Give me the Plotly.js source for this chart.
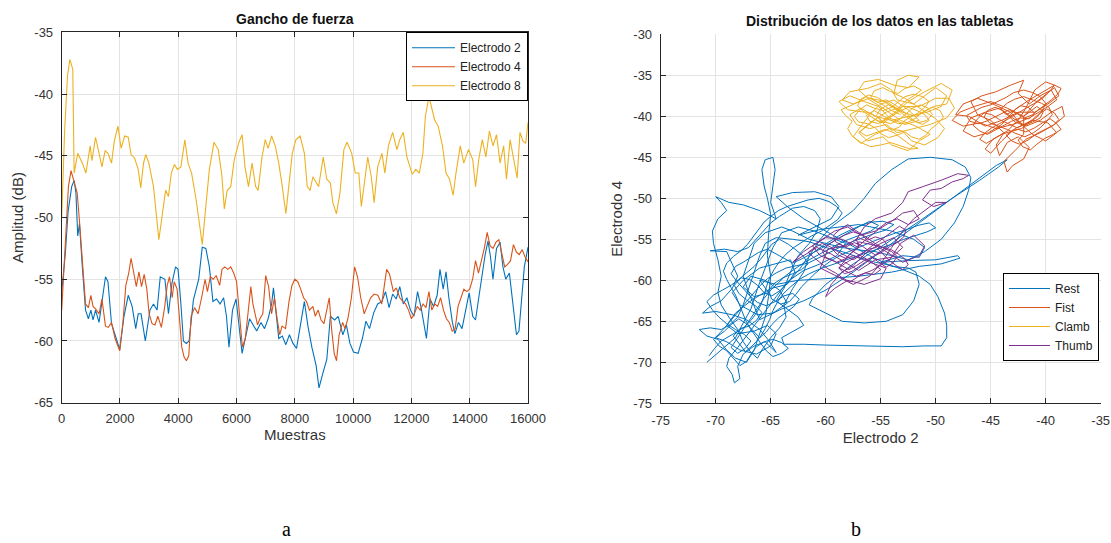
<!DOCTYPE html>
<html>
<head>
<meta charset="utf-8">
<script src="https://cdn.plot.ly/plotly-3.0.1.min.js"></script>
<style>html,body{margin:0;padding:0;background:#fff;}#chart{width:1111px;height:543px;}</style>
</head>
<body>
<div id="chart"></div>
<script>
// ---------- Left chart: Gancho de fuerza ----------
const e8X = [0,100,200,280,380,427,550,708,830,916,977,1038,1160,1282,1380,1490,1587,1709,1807,1929,2040,2161,2283,2381,2503,2625,2711,2808,2882,2991,3150,3333,3443,3565,3663,3761,3870,3968,4090,4225,4335,4457,4615,4823,4945,5067,5226,5372,5495,5580,5678,5800,5922,6081,6190,6288,6410,6532,6654,6740,6874,6984,7082,7204,7326,7448,7570,7692,7790,7912,8034,8180,8327,8425,8523,8620,8718,8816,8974,9096,9219,9304,9426,9548,9682,9792,9951,10073,10195,10281,10403,10500,10623,10720,10842,10989,11087,11209,11355,11502,11600,11722,11844,12027,12149,12271,12393,12479,12601,12699,12796,12918,13065,13187,13309,13431,13529,13676,13797,13956,14103,14200,14310,14432,14554,14676,14798,14920,15042,15164,15262,15384,15506,15628,15725,15823,15921,16000];
const e8Y = [-50,-43,-38.5,-37.2,-38,-46.4,-44.8,-45.6,-46.4,-45.1,-44.2,-45.4,-43.5,-44.8,-45.9,-44.6,-44.8,-45.6,-43.8,-42.6,-44.4,-43.4,-43.5,-44.9,-45.2,-46.1,-47.6,-45.6,-44.9,-45.6,-47.5,-51.8,-49.7,-47.8,-48.3,-46.4,-45.7,-46.1,-45.9,-43.7,-45.6,-46.4,-48.6,-52.2,-49.1,-46.1,-43.9,-44.5,-46.6,-49.3,-47.8,-47.5,-45.3,-43.9,-43.3,-45.9,-47.5,-45.6,-47.5,-47.8,-45.1,-43.7,-44.4,-43.4,-44.2,-45.6,-47.5,-49.7,-47.5,-44.8,-43.7,-43.4,-44.8,-47.5,-47.8,-46.7,-47.1,-47.5,-45.1,-46.9,-47.2,-48.8,-49.7,-48.0,-44.5,-43.9,-44.8,-46.4,-46.4,-49.1,-46.9,-45.1,-46.7,-48.8,-45.9,-44.8,-46.4,-44.2,-43.1,-44.5,-43.7,-43.1,-45.1,-46.5,-46.1,-46.4,-44.8,-41.8,-40.2,-41.3,-42.1,-42.6,-44.2,-46.4,-46.9,-48.2,-46.4,-44.2,-45.6,-44.5,-45.3,-47.5,-45.3,-43.7,-45.1,-43.0,-44.2,-43.3,-45.6,-44.2,-46.9,-43.7,-45.3,-46.8,-43.1,-43.8,-44.0,-42.3];

const e2X = [0,122,220,342,427,488,550,610,708,818,916,1000,1075,1160,1282,1380,1502,1587,1709,1831,1990,2137,2283,2417,2540,2625,2723,2869,3028,3150,3272,3382,3541,3663,3785,3907,3993,4090,4176,4274,4371,4518,4701,4823,4945,5067,5189,5311,5433,5555,5653,5739,5861,5983,6081,6190,6325,6447,6569,6691,6838,6960,7082,7204,7265,7350,7448,7570,7692,7814,7936,8058,8217,8327,8449,8583,8730,8828,8974,9096,9219,9365,9487,9646,9768,9890,10012,10171,10317,10439,10561,10708,10842,10989,11111,11233,11355,11477,11600,11722,11844,11966,12088,12210,12332,12515,12638,12760,12882,12980,13089,13187,13284,13406,13492,13614,13736,13858,13980,14103,14200,14310,14408,14530,14628,14713,14798,14920,15042,15140,15237,15360,15482,15604,15690,15775,15873,16000];
const e2Y = [-56,-53,-49.5,-47.5,-47.0,-48.0,-51.5,-50.5,-54,-57.5,-58.2,-57.5,-58.3,-57.5,-58.5,-57,-54.8,-55.2,-58.6,-59.5,-60.7,-58,-56.3,-57.2,-59.0,-57.8,-57.8,-60.0,-57.5,-57.0,-57.5,-54.8,-55.0,-57.8,-55.3,-54.0,-54.2,-57.0,-60.0,-60.2,-60.0,-56.7,-55,-52.4,-52.5,-54,-56.8,-56.6,-57,-56.5,-58,-60.5,-57.5,-56.6,-58.6,-61.0,-59.5,-58.2,-58.7,-59.2,-58.5,-59.0,-58.2,-57.0,-55.7,-57.5,-59.8,-59.6,-60.3,-59.5,-60.2,-60.6,-58.2,-56.8,-58.8,-60.5,-62.0,-63.8,-62.5,-61.5,-58.0,-58.3,-58.0,-59.5,-58.7,-60.2,-60.9,-61.0,-59.8,-58.4,-59.0,-57.7,-57.0,-56.8,-56.0,-57.3,-56.2,-56.6,-55.6,-57.0,-56.5,-57.5,-58.0,-56.0,-57.3,-59.8,-56.6,-57.2,-56.3,-54.2,-55.8,-54.4,-56.5,-58.5,-59.4,-58.5,-59.0,-57.5,-56.1,-58.0,-58.3,-56.5,-54.8,-53.0,-51.9,-53.2,-55.0,-52.5,-52.0,-54.0,-55.0,-54.5,-57.0,-59.5,-59.2,-56.5,-54.0,-52.4];

const e4X = [0,122,230,320,420,530,610,710,818,916,1000,1075,1160,1282,1380,1502,1600,1709,1831,1990,2100,2200,2300,2380,2480,2560,2650,2740,2830,2920,3000,3100,3200,3300,3420,3530,3620,3700,3790,3860,3960,4040,4120,4200,4280,4360,4440,4560,4680,4800,4920,5000,5100,5200,5300,5420,5500,5600,5700,5800,5900,6000,6080,6200,6300,6400,6490,6560,6640,6720,6800,6900,7000,7100,7200,7300,7380,7480,7560,7680,7800,7900,8000,8100,8200,8300,8400,8500,8620,8700,8800,8900,9000,9100,9180,9260,9350,9430,9520,9640,9720,9820,9940,10050,10150,10260,10380,10480,10600,10720,10850,10980,11080,11150,11250,11380,11480,11600,11700,11800,11900,12000,12100,12200,12300,12400,12500,12600,12700,12800,12900,13000,13100,13200,13300,13400,13500,13600,13700,13800,13900,14000,14100,14200,14300,14400,14500,14600,14700,14800,14900,15000,15100,15200,15300,15400,15500,15600,15700,15800,15900,16000];
const e4Y = [-57.5,-52,-47.5,-46.2,-47.0,-48.0,-50.3,-53.5,-57.0,-57.3,-56.3,-57.2,-57.4,-57.8,-56.6,-58.8,-58.9,-58.5,-59.8,-60.8,-58.5,-55.5,-54.5,-53.3,-54.5,-55.6,-54.4,-55.6,-54.6,-55.8,-57.8,-58.6,-58.7,-58.0,-58.9,-57.3,-55.5,-54.8,-56.5,-55.2,-55.8,-58.5,-60.5,-61.3,-61.6,-61.2,-58.0,-57.3,-57.8,-56.5,-55.0,-56.0,-54.8,-55.0,-54.7,-55.5,-54.2,-54.0,-54.2,-54.0,-54.5,-55.2,-57.5,-60.5,-59.8,-57.5,-55.6,-57.0,-58.0,-58.7,-58.2,-57.8,-54.7,-55.6,-57.8,-56.5,-58.0,-59.5,-58.8,-59.0,-56.8,-55.5,-55.0,-55.2,-55.8,-56.5,-56.8,-57.5,-57.2,-58.0,-57.5,-58.3,-58.6,-57.3,-56.5,-59.0,-61.0,-61.6,-59.5,-58.5,-59.0,-58.2,-56.5,-54.0,-54.8,-56.5,-57.8,-57.2,-56.5,-56.2,-56.3,-57.0,-55.5,-54.2,-54.6,-56.0,-55.7,-56.5,-56.8,-57.0,-57.5,-58.2,-57.8,-57.2,-57.5,-57.0,-57.3,-56.0,-57.5,-57.0,-57.2,-56.5,-57.5,-58.2,-58.5,-59.2,-59.0,-57.2,-56.5,-55.8,-56.0,-55.8,-55.0,-53.5,-54.5,-53.5,-52.5,-51.2,-52.3,-52.5,-52.0,-51.8,-53.0,-54.0,-53.8,-53.5,-52.2,-52.8,-53.0,-52.6,-53.2,-53.6];

// ---------- Right chart: Distribución de los datos ----------
const restX = [-70.8,-69.5,-68.2,-67.5,-66.8,-66.2,-65.5,-64.8,-64.0,-62.5,-61.0,-59.5,-58.2,-59.0,-60.5,-62.0,-63.5,-64.5,-65.5,-66.5,-67.3,-68.0,-68.8,-69.0,-68.5,-68.3,-67.8,-68.0,-67.5,-66.5,-65.5,-64.5,-65.2,-66.0,-67.2,-68.5,-70.0,-71.2,-70.5,-69.5,-68.5,-68.0,-68.5,-69.0,-70.5,-69.2,-68.0,-67.0,-66.0,-65.0,-64.2,-63.0,-62.0,-61.0,-60.5,-60.8,-61.5,-62.5,-63.2,-63.8,-64.5,-63.5,-62.5,-62.0,-63.0,-64.0,-63.8,
-62.0,-60.0,-57.0,-55.0,-53.0,-51.0,-49.5,-49.0,-49.0,-49.2,-49.8,-50.5,-51.5,-52.8,-54.0,-55.5,-57.0,-58.5,-60.0,-61.5,-63.0,-64.5,-65.5,-66.0,-66.5,-67.0,-67.5,-68.0,-68.8,-69.5,-70.5,-71.5,-70.8,-69.8,-69.0,-68.2,-67.2,-66.5,-66.0,-65.5,-65.2,-65.0,-65.3,-65.2,-65.0,-65.3,-65.6,-65.8,-65.5,-64.8,-64.6,-64.8,-65.0,-64.5,
-66.0,-67.5,-68.8,-70.0,-69.5,-69.0,-69.8,-70.3,-70.2,-69.8,-69.5,-69.8,-69.5,-68.8,-68.0,-67.5,-66.8,-66.2,-65.8,-65.0,-64.2,-63.6,-63.8,
-63.0,-62.0,-61.5,-60.5,-59.5,-58.5,-57.5,-56.5,-55.5,-54.0,-52.5,-50.5,-48.5,-47.3,-46.8,-47.0,-47.5,-48.3,-49.5,-51.0,-52.5,-54.0,-55.5,-57.0,-58.5,-60.0,-61.5,-63.0,-64.0,-65.5,-66.5,-67.0,-67.5,-67.0,-66.5,-66.0,
-64.0,-62.0,-60.0,-57.5,-55.0,-52.0,-49.0,-46.5,-44.5,-43.5,-44.3,-46.0,-48.5,-51.5,-54.5,-57.5,-60.0,-61.2,-61.5,
-60.0,-58.5,-56.5,-54.5,-53.0,-52.0,-51.5,-51.8,-52.5,-54.0,-56.0,-58.0,-60.0,-62.0,-63.5,-64.5,-63.0,-61.0,-59.5,-58.8,-59.5,-61.0,-62.5,-60.5,-57.0,-54.0,-52.0,-51.0,-51.5,-53.0,-55.0,-52.5,-50.0,-48.0,-47.8,-49.5,-51.5,
-54.0,-57.0,-60.0,-62.5,-64.5,-66.0,-65.2,-66.5,-67.5,-66.8,-65.5,-64.2,-63.5,-64.8,-66.2,-67.8,-68.5,-67.5,-66.0,-64.5,-63.2,-62.8,-63.5,-65.0,-66.8,-68.2,-69.0,-68.0,-66.5,-65.3,-64.5,-65.0,-66.3,-67.8,-69.0,-70.0,
-69.2,-68.6,-67.9,-67.2,-66.6,-66.0,-65.4,-64.9,-64.3,-63.6,-62.9,-62.4,-63.0,-63.8,-64.6,-65.4,-66.2,-66.9,-67.5,-68.1,-68.6,-68.2,-67.5,-66.8,-66.1,-65.3,-64.5,-63.8,-63.0,-62.2,-61.3,-60.4,-59.5,-58.6,-57.7,-56.9,-56.0,-55.2,-55.9,-56.9,-57.9,-58.9,-59.9,-60.9,-61.9,-62.8,-63.6,-64.3,-65.0,-65.6,-66.1,-66.6,-67.1,-67.6,-68.1,-68.6,-68.0,-67.3,-66.8,-67.4,-68.2,-69.0,-69.7,-70.3,-70.8,-70.2,-69.4,-68.6,-67.9,-67.2,-66.5,-65.9,-65.4,-64.9,-64.2,-63.4,-62.7,-62.0,-61.6,-62.2,-63.0,-63.9,-64.7,-65.2,-64.9,-64.1,-63.3,-62.7,-62.2,-61.6,-61.0,-60.3,-59.5,-58.6,-57.6,-56.6,-55.6,-54.6,-53.6,-52.6,-51.6,-50.6,-50.0,-50.8,-51.8,-52.9,-54.0,-55.1,-56.2,-57.3,-58.4,-59.5,-60.5,-61.5,-62.4,-63.2,-63.9,-64.4,-64.8,-65.1,-65.5,-66.0,-66.6,-67.3];
const restY = [-70.0,-68.5,-67.0,-65.2,-63.5,-61.0,-58.5,-56.0,-54.2,-53.5,-54.0,-54.8,-55.5,-57.0,-58.0,-58.8,-60.2,-62.0,-63.8,-65.5,-67.0,-68.2,-69.5,-70.5,-71.5,-72.5,-72.0,-70.5,-69.0,-68.0,-67.5,-68.8,-67.3,-66.0,-64.8,-64.2,-63.8,-64.0,-63.2,-62.5,-61.0,-59.5,-58.0,-56.5,-56.4,-56.2,-56.5,-56.0,-54.5,-53.0,-52.2,-51.2,-51.0,-51.5,-52.5,-54.0,-55.5,-57.0,-59.0,-61.0,-62.5,-63.5,-64.5,-65.5,-66.2,-67.0,-67.8,
-67.8,-67.9,-68.0,-68.1,-68.1,-68.0,-68.0,-67.0,-65.5,-64.0,-62.0,-60.5,-59.5,-58.8,-58.2,-57.8,-57.2,-56.5,-56.0,-55.3,-55.0,-54.8,-55.5,-57.0,-59.0,-61.0,-63.0,-64.5,-65.5,-66.0,-65.8,-66.0,-66.8,-67.2,-68.5,-69.5,-70.0,-68.5,-66.5,-64.5,-62.0,-59.5,-57.0,-54.5,-52.0,-50.0,-48.5,-46.5,-45.3,-45.0,-46.5,-48.5,-50.5,-52.5,
-51.5,-50.8,-50.5,-49.8,-50.5,-51.5,-52.5,-54.0,-55.5,-57.5,-59.5,-61.5,-63.0,-64.5,-66.0,-67.5,-68.8,-69.5,-68.5,-67.0,-65.8,-64.5,-63.0,
-61.0,-59.0,-57.0,-55.0,-53.5,-52.5,-51.5,-50.0,-48.2,-46.5,-45.2,-45.0,-45.3,-46.2,-47.5,-49.0,-51.0,-53.0,-55.0,-56.5,-57.5,-57.0,-56.5,-56.3,-56.0,-55.5,-55.0,-54.0,-53.5,-54.2,-55.5,-57.5,-59.5,-61.5,-63.2,-64.8,
-63.5,-62.5,-61.2,-59.0,-56.5,-53.5,-50.5,-48.0,-46.0,-45.3,-46.2,-47.8,-50.0,-52.8,-55.5,-58.0,-60.5,-62.2,-63.0,
-64.0,-65.0,-65.2,-65.0,-64.2,-62.5,-60.5,-59.0,-58.5,-58.3,-57.0,-55.5,-54.0,-52.5,-51.0,-49.8,-49.3,-49.2,-49.8,-51.0,-52.5,-53.5,-54.5,-53.8,-53.2,-54.0,-55.0,-56.0,-57.2,-57.0,-57.8,-57.6,-57.5,-57.0,-57.3,-58.0,-58.3,
-59.0,-59.5,-59.8,-60.0,-60.5,-60.0,-61.5,-62.0,-60.8,-59.5,-60.0,-61.2,-62.8,-64.0,-64.2,-63.0,-61.5,-60.0,-58.5,-58.0,-57.5,-59.0,-60.5,-61.0,-62.5,-64.0,-65.5,-66.5,-66.2,-65.5,-66.5,-68.0,-69.0,-68.5,-67.5,-67.0,
-66.2,-65.4,-64.7,-65.3,-66.1,-67.0,-66.3,-65.4,-64.6,-63.9,-63.2,-62.3,-61.6,-61.9,-62.6,-63.1,-62.7,-61.9,-61.0,-60.1,-59.2,-58.3,-57.8,-57.2,-56.6,-56.2,-56.8,-57.4,-57.9,-57.4,-56.8,-56.1,-55.4,-54.7,-54.0,-53.4,-52.8,-53.3,-54.0,-54.5,-55.0,-55.6,-56.3,-57.0,-57.8,-58.6,-59.4,-60.3,-61.2,-62.2,-63.2,-64.2,-65.2,-66.2,-67.2,-68.2,-68.9,-68.3,-67.4,-66.6,-66.0,-65.3,-64.5,-63.6,-62.6,-61.8,-61.2,-60.6,-59.9,-59.1,-58.3,-57.4,-56.5,-55.6,-55.0,-55.6,-56.3,-57.1,-58.0,-58.7,-59.2,-59.7,-60.4,-61.3,-62.3,-62.9,-62.6,-61.7,-60.8,-60.0,-59.2,-58.4,-57.6,-56.9,-56.3,-55.7,-55.2,-54.7,-54.2,-53.8,-53.3,-53.0,-53.6,-54.1,-54.5,-55.0,-55.6,-56.1,-56.6,-57.1,-57.6,-58.1,-58.6,-59.2,-59.9,-60.8,-61.7,-62.7,-63.7,-64.8,-65.9,-67.0,-67.9,-68.7];
// further Rest samples in the dense left tangle, as [x, y] pairs
const restMore = [[-67.9,-67.6],[-68.4,-66.8],[-67.8,-65.9],[-67.0,-65.6],[-66.3,-64.9],[-65.8,-63.9],[-66.4,-63.1],[-67.2,-62.4],[-67.9,-61.6],[-68.3,-60.6],[-67.7,-59.7],[-66.9,-59.9],[-66.2,-60.6],[-65.6,-61.5],[-64.9,-61.9],[-64.2,-61.3],[-63.5,-60.4],[-62.9,-59.5],[-62.3,-58.5],[-61.8,-57.5],[-61.1,-56.6],[-60.3,-55.8],[-59.5,-55.1],[-58.7,-54.5],[-57.8,-53.9],[-56.8,-53.3],[-55.8,-52.9],[-54.8,-52.8],[-53.8,-53.2],[-54.6,-53.9],[-55.6,-54.3],[-56.6,-54.8],[-57.6,-55.3],[-58.6,-55.9],[-59.6,-56.6],[-60.6,-57.3],[-61.6,-57.9],[-62.6,-58.2],[-63.6,-58.5],[-64.5,-59.1],[-65.3,-59.8],[-66.0,-60.7],[-66.6,-61.6],[-67.2,-62.6],[-67.8,-63.6],[-68.4,-64.6],[-69.0,-65.5],[-69.6,-66.4],[-70.2,-67.2],[-69.7,-68.0],[-69.0,-68.6],[-68.4,-69.5],[-67.8,-70.4],[-67.2,-69.9],[-66.8,-69.0],[-66.3,-68.1],[-65.6,-67.5],[-64.8,-67.2],[-64.0,-67.6],[-63.4,-68.3],[-64.0,-68.9],[-64.8,-69.3],[-65.4,-68.6],[-65.9,-67.7],[-66.4,-66.8],[-66.9,-65.8],[-67.3,-64.8],[-67.6,-63.8],[-67.9,-62.8],[-68.2,-61.8],[-68.6,-60.9],[-69.0,-59.9],[-69.3,-58.9],[-69.0,-57.9],[-68.4,-57.1],[-67.7,-56.4],[-67.1,-55.6],[-66.6,-54.7],[-66.1,-53.8],[-65.6,-52.9],[-65.0,-52.2],[-64.3,-51.5],[-63.5,-51.0],[-62.6,-50.6],[-61.6,-50.2],[-60.6,-50.0],[-59.7,-50.4],[-59.0,-51.0],[-58.5,-51.8],[-58.9,-52.6],[-59.6,-53.3],[-60.4,-54.0],[-61.3,-54.6],[-62.1,-55.3],[-62.9,-56.0],[-63.6,-56.8],[-64.2,-57.7],[-64.7,-58.7],[-65.1,-59.7],[-65.4,-60.8],[-65.6,-61.9],[-65.9,-63.0],[-66.3,-64.0],[-66.8,-64.9],[-67.4,-65.7],[-68.1,-66.3],[-68.8,-66.8],[-69.5,-67.4],[-70.1,-68.3],[-70.6,-69.2]];

const fistX = [-42.0,-43.5,-45.0,-46.5,-47.8,-48.5,-47.5,-46.0,-44.5,-43.0,-41.5,-40.0,-39.0,-39.5,-40.5,-41.5,-42.5,-42.0,-43.2,-44.5,-45.8,-46.8,-46.2,-45.0,-43.8,-44.5,-44.2,-43.5,-42.5,-41.5,-42.0,-43.0,-43.5,-43.8,-42.8,-41.8,-40.5,-39.2,-38.3,-38.5,-39.5,-40.5,-41.8,-43.0,-44.2,-45.5,-46.8,-47.5,-46.5,-45.2,-44.0,-42.8,-41.5,-40.2,-39.2,-40.0,-41.0,-41.8,-42.5,-43.5,-44.8,-45.5,-45.0,-44.0,-42.8,-41.2,-39.8,-39.0,-40.0,-41.2,-42.2,-43.2,-44.8,-46.2,-47.5,-48.2,-47.0,-45.5,-44.0,-42.5,-41.0,-39.8,-38.8,-39.2,-40.8,-42.0,
-41.4,-40.8,-40.2,-40.5,-41.2,-42.0,-42.8,-43.4,-43.9,-44.6,-45.3,-45.6,-45.1,-44.3,-43.5,-42.7,-41.9,-41.1,-40.5,-39.9,-39.4,-39.7,-40.4,-41.2,-42.0,-42.8,-43.5,-44.1,-43.6,-42.9,-42.3,-41.6,-41.0,-41.5,-42.3,-43.1,-43.8,-44.6,-45.3,-46.0,-46.6,-46.2,-45.6,-44.9,-44.2,-43.4,-42.6,-41.9,-41.2,-40.6,-39.9,-39.2,-38.8,-39.3,-40.0,-40.8,-41.6,-42.4,-43.1,-43.6,-43.0,-42.2,-41.5,-40.8,-40.3,-40.0,-40.5,-41.2,-42.0,-42.9,-43.6,-44.3,-45.0,-45.8,-46.5,-47.2,-46.9,-46.1,-45.4,-44.7,-44.0,-43.3,-42.6,-41.9,-41.2,-40.6,-40.1,-39.5,-38.9,-38.6,-39.2,-39.6,-40.1,-40.7,-41.4,-42.1,-42.8,-43.5,-44.2,-44.9,-45.5,-46.0,-45.4,-44.7,-44.0,-43.3,-42.5,-41.8,-41.0,-40.3,-39.6,-39.0,-38.6,-39.3,-40.1,-40.8,-41.4,-42.1,-42.5,-42.0,-42.0];
const fistY = [-40.0,-39.0,-38.2,-38.8,-39.5,-40.5,-41.2,-40.8,-41.5,-41.0,-40.2,-39.0,-38.0,-36.8,-37.5,-38.5,-37.2,-35.6,-36.2,-37.0,-37.5,-38.2,-39.8,-40.5,-42.0,-43.5,-44.8,-43.2,-42.5,-43.8,-45.2,-46.0,-46.8,-45.5,-44.2,-42.8,-42.0,-41.0,-40.0,-38.8,-39.5,-40.5,-41.2,-40.2,-39.0,-39.5,-40.2,-41.8,-42.5,-42.0,-41.0,-39.2,-38.0,-37.0,-36.2,-35.8,-36.8,-39.0,-40.5,-41.8,-42.8,-44.0,-44.5,-43.0,-41.5,-40.5,-40.8,-42.0,-43.0,-42.2,-41.0,-39.5,-38.5,-37.8,-38.5,-39.8,-40.0,-41.2,-40.5,-39.5,-39.5,-38.5,-37.5,-36.5,-38.2,-40.0,
-39.4,-38.8,-39.4,-40.2,-40.7,-41.1,-40.7,-40.0,-39.3,-38.9,-39.3,-40.1,-40.8,-41.2,-41.6,-42.1,-42.5,-42.0,-41.4,-40.6,-39.8,-38.9,-38.4,-38.0,-37.6,-37.9,-38.4,-39.1,-39.8,-39.3,-38.7,-38.9,-39.6,-40.3,-40.2,-40.6,-41.1,-41.7,-42.2,-41.8,-41.1,-40.3,-39.6,-39.8,-40.4,-40.9,-41.4,-41.0,-40.4,-39.7,-39.1,-39.6,-40.4,-41.1,-41.6,-42.1,-42.9,-43.4,-43.0,-42.3,-41.7,-41.5,-40.8,-40.1,-39.3,-38.4,-37.6,-37.1,-36.8,-37.1,-37.7,-38.2,-38.6,-38.9,-39.4,-39.9,-40.6,-40.9,-40.6,-40.1,-39.6,-39.2,-39.7,-40.2,-39.8,-39.2,-38.6,-38.0,-37.3,-36.6,-36.2,-36.9,-37.6,-38.2,-38.7,-39.3,-39.9,-40.4,-40.9,-41.4,-42.0,-42.8,-43.3,-42.8,-42.2,-41.9,-41.6,-41.9,-41.4,-40.8,-40.3,-40.9,-41.6,-42.2,-42.7,-43.4,-44.1,-43.7,-42.9,-42.2,-40.0];

const clambX = [-53.0,-54.5,-56.0,-57.5,-58.5,-57.8,-56.2,-55.0,-54.0,-53.5,-52.0,-51.0,-50.0,-49.0,-49.5,-50.8,-52.5,-54.0,-55.5,-56.8,-57.8,-57.2,-56.0,-54.5,-53.5,-52.0,-50.5,-49.0,-48.3,-48.8,-50.0,-51.5,-53.0,-54.5,-56.0,-57.0,-56.2,-54.8,-54.0,-52.5,-51.5,-50.5,-51.8,-53.2,-54.8,-56.0,-57.0,-56.5,-55.2,-53.8,-52.5,-51.5,-52.5,-53.5,-53.8,-52.8,-51.2,-50.0,-49.2,-49.8,-51.0,-52.2,-53.0,-54.2,-55.5,-56.8,-57.5,-56.8,-55.8,-55.0,-53.8,-52.5,-51.5,-52.8,-54.2,-55.2,-56.5,-57.8,-58.8,-58.0,-56.5,-55.0,-53.8,-52.5,-51.0,-49.5,-48.5,-49.0,-50.2,-51.8,-53.0,
-53.6,-54.3,-55.0,-55.4,-54.9,-54.1,-53.3,-52.7,-52.1,-51.4,-50.7,-50.3,-50.8,-51.6,-52.4,-53.1,-53.9,-54.6,-55.3,-56.1,-56.8,-57.1,-56.6,-55.8,-55.1,-54.6,-54.0,-53.3,-52.9,-52.3,-51.6,-51.0,-50.6,-51.2,-52.0,-52.8,-53.4,-54.0,-54.8,-55.6,-56.3,-56.9,-57.4,-57.0,-56.2,-55.5,-55.0,-54.3,-53.5,-52.8,-52.2,-51.5,-50.9,-50.4,-49.8,-49.3,-49.6,-50.3,-51.1,-51.8,-52.6,-53.4,-54.2,-54.9,-55.6,-56.3,-56.0,-55.2,-54.4,-53.7,-53.2,-52.6,-51.9,-51.3,-52.0,-52.8,-53.4,-54.1,-54.8,-55.6,-55.9,-55.3,-54.5,-53.8,-53.1,-52.5,-51.9,-51.2,-50.6,-51.0,-51.7,-52.5,-53.3,-54.0,-54.7,-55.5,-56.3,-56.9,-56.3,-55.4,-54.6,-53.8,-53.0,-52.3,-51.6,-52.3,-53.2,-54.1,-55.0,-55.9,-56.8,-57.6,-58.0,-57.6,-58.2,-58.6,-57.9,-57.0,-56.3,-55.6,-54.8,-54.0,-53.2];
const clambY = [-39.5,-38.2,-37.8,-38.5,-38.0,-37.0,-36.6,-36.0,-36.8,-38.0,-38.5,-37.5,-36.5,-37.5,-38.8,-39.5,-40.0,-40.5,-40.0,-39.0,-39.8,-41.0,-41.5,-41.0,-42.0,-41.5,-41.0,-40.2,-39.0,-37.8,-37.8,-38.8,-38.8,-39.5,-40.8,-42.0,-43.0,-42.5,-43.5,-44.2,-43.0,-42.2,-41.2,-40.5,-39.0,-38.0,-36.8,-35.8,-35.5,-36.2,-36.5,-35.2,-35.0,-35.6,-37.2,-37.8,-39.2,-40.3,-41.5,-42.6,-43.5,-43.0,-41.8,-41.5,-42.2,-43.3,-42.5,-41.2,-39.5,-38.5,-38.0,-39.2,-40.5,-41.0,-40.2,-38.8,-38.2,-37.5,-38.2,-39.2,-39.5,-40.8,-39.8,-38.2,-37.0,-36.0,-36.8,-38.5,-38.8,-40.0,-39.5,
-39.0,-38.6,-39.1,-39.9,-40.6,-40.9,-40.4,-39.7,-39.0,-38.6,-39.0,-39.8,-40.5,-40.8,-40.3,-39.6,-38.9,-38.3,-37.7,-37.4,-37.9,-38.7,-39.4,-39.7,-40.3,-41.1,-41.7,-41.3,-40.6,-40.1,-39.6,-38.9,-38.2,-37.6,-37.3,-37.6,-38.2,-38.9,-39.3,-39.0,-38.6,-39.2,-40.0,-40.7,-40.9,-41.4,-42.1,-42.6,-42.3,-41.9,-42.5,-42.8,-42.3,-41.5,-40.9,-40.1,-39.3,-38.9,-39.4,-40.2,-40.8,-40.9,-40.4,-39.8,-39.3,-39.9,-40.6,-40.9,-40.2,-39.5,-38.7,-38.0,-37.4,-36.8,-36.3,-36.6,-37.2,-37.0,-36.5,-36.9,-37.7,-38.3,-38.0,-38.5,-39.2,-39.9,-40.6,-41.0,-40.5,-39.8,-39.3,-38.9,-39.4,-40.0,-40.8,-40.4,-41.2,-41.9,-42.4,-42.0,-41.6,-42.0,-42.8,-43.5,-43.9,-44.0,-43.6,-43.2,-43.5,-43.7,-43.2,-42.4,-41.5,-40.6,-39.9,-39.2,-38.8,-38.2,-37.6,-38.1,-38.6,-39.3,-39.8];

const thumbX = [-57.0,-58.5,-60.0,-61.2,-60.5,-59.0,-57.5,-56.0,-54.5,-55.0,-56.5,-58.0,-59.2,-60.0,-59.5,-58.5,-57.5,-56.2,-55.0,-53.8,-53.0,-54.0,-55.5,-57.0,-58.0,-59.5,-60.8,-62.0,-63.0,-62.0,-60.5,-59.2,-58.0,-56.8,-55.5,-54.5,-53.5,-52.5,-51.5,-52.0,-53.0,-54.0,-55.2,-56.5,-57.8,-58.8,-57.2,-55.8,-54.2,-53.2,-52.0,-51.0,-51.5,-53.0,-54.5,-55.8,-57.0,-58.2,-59.8,-60.5,-59.0,-57.5,-56.0,-55.0,-54.0,-53.0,-52.0,-51.0,-50.0,-49.0,-50.2,-51.2,-50.5,-49.5,-48.5,-47.5,-47.0,-48.0,-49.5,-51.0,-52.5,-53.0,-54.0,-55.5,-56.5,-57.2,-57.0,
-57.6,-58.2,-58.9,-59.4,-58.8,-58.1,-57.4,-56.7,-56.1,-55.5,-54.9,-54.4,-54.8,-55.5,-56.2,-56.8,-57.5,-58.3,-59.0,-59.7,-60.3,-60.0,-59.3,-58.6,-57.9,-57.2,-56.5,-55.8,-55.1,-54.5,-53.9,-53.5,-54.0,-54.7,-55.4,-56.0,-56.6,-57.3,-58.0,-58.7,-59.3,-59.1,-58.4,-57.7,-57.0,-56.3,-55.6,-55.0,-55.6,-56.4,-57.1,-57.8,-58.5,-59.1,-59.8,-60.4,-61.0,-61.6,-61.0,-60.3,-59.6,-58.9,-58.2,-57.5,-56.9,-56.3,-55.7,-55.1,-54.5,-53.9,-53.3,-52.7,-52.9,-53.5,-54.2,-54.9,-55.7,-56.4,-57.0,-57.6,-58.3,-58.8,-58.2,-57.5,-56.8,-56.1,-55.4,-54.7,-54.2,-53.6,-53.0,-52.5,-52.8,-53.4,-54.0,-55.0,-56.0,-57.0,-57.0];
const thumbY = [-56.0,-55.0,-54.8,-55.8,-57.0,-57.8,-57.0,-57.8,-58.5,-59.8,-60.5,-60.0,-61.0,-62.0,-60.5,-59.0,-58.2,-56.5,-55.5,-54.8,-56.0,-57.2,-57.5,-58.8,-58.0,-56.8,-56.0,-57.0,-57.8,-56.5,-55.2,-54.0,-53.5,-54.5,-54.0,-53.0,-52.5,-53.2,-52.5,-51.5,-51.8,-52.8,-53.8,-55.2,-56.8,-58.5,-59.5,-58.8,-57.5,-55.5,-54.5,-55.8,-57.0,-57.8,-56.5,-55.5,-54.8,-55.8,-56.2,-58.5,-59.5,-60.5,-59.5,-58.0,-56.0,-54.0,-52.5,-51.5,-50.5,-50.5,-51.0,-50.2,-49.0,-48.8,-48.0,-47.6,-47.2,-47.0,-47.8,-48.5,-49.2,-50.5,-51.8,-52.5,-53.5,-55.0,-56.0,
-56.6,-57.3,-56.9,-56.2,-55.6,-55.9,-55.4,-55.8,-56.4,-56.9,-56.4,-55.7,-55.0,-54.7,-55.1,-54.4,-54.1,-54.5,-55.0,-55.6,-56.4,-57.2,-57.6,-58.2,-58.7,-58.2,-57.6,-57.2,-57.8,-58.4,-57.9,-57.1,-56.5,-56.1,-55.6,-55.0,-54.5,-53.9,-53.2,-53.8,-54.5,-55.3,-55.8,-56.3,-56.9,-57.4,-58.0,-58.7,-59.3,-59.1,-59.6,-60.2,-59.7,-59.1,-58.6,-58.0,-57.3,-56.6,-56.0,-55.5,-55.9,-56.5,-57.0,-57.5,-57.0,-56.3,-55.7,-55.2,-54.6,-54.0,-53.4,-53.9,-54.7,-55.4,-55.9,-56.6,-57.1,-57.8,-58.3,-58.9,-59.2,-58.5,-57.9,-57.3,-56.7,-56.2,-56.0,-56.9,-57.6,-58.2,-58.7,-58.1,-57.4,-56.8,-56.3,-55.9,-55.6,-55.3,-56.0];

const leftXTicks = [0,2000,4000,6000,8000,10000,12000,14000,16000];
const leftYTicks = [-65,-60,-55,-50,-45,-40,-35];
const rightXTicks = [-75,-70,-65,-60,-55,-50,-45,-40,-35];
const rightYTicks = [-75,-70,-65,-60,-55,-50,-45,-40,-35,-30];

const restAllX = restX.concat(restMore.map(p => p[0]));
const restAllY = restY.concat(restMore.map(p => p[1]));

const C_BLUE = '#0072BD', C_ORANGE = '#D95319', C_YELLOW = '#EDB120', C_PURPLE = '#7E2F8E';
const LW = 1.1;

const traces = [
  {x: e2X, y: e2Y, name: 'Electrodo 2', mode: 'lines', line: {color: C_BLUE, width: LW}, xaxis: 'x', yaxis: 'y', legend: 'legend'},
  {x: e4X, y: e4Y, name: 'Electrodo 4', mode: 'lines', line: {color: C_ORANGE, width: LW}, xaxis: 'x', yaxis: 'y', legend: 'legend'},
  {x: e8X, y: e8Y, name: 'Electrodo 8', mode: 'lines', line: {color: C_YELLOW, width: LW}, xaxis: 'x', yaxis: 'y', legend: 'legend'},
  {x: restAllX, y: restAllY, name: 'Rest', mode: 'lines', line: {color: C_BLUE, width: 1}, xaxis: 'x2', yaxis: 'y2', legend: 'legend2'},
  {x: fistX, y: fistY, name: 'Fist', mode: 'lines', line: {color: C_ORANGE, width: 1}, xaxis: 'x2', yaxis: 'y2', legend: 'legend2'},
  {x: clambX, y: clambY, name: 'Clamb', mode: 'lines', line: {color: C_YELLOW, width: 1}, xaxis: 'x2', yaxis: 'y2', legend: 'legend2'},
  {x: thumbX, y: thumbY, name: 'Thumb', mode: 'lines', line: {color: C_PURPLE, width: 1}, xaxis: 'x2', yaxis: 'y2', legend: 'legend2'}
];

const FONT = 'Liberation Sans, Arial, sans-serif';
const AX = '#262626';
function axis(extra) {
  return Object.assign({
    showgrid: true, gridcolor: '#e3e3e3', gridwidth: 1, zeroline: false,
    showline: true, linecolor: AX, linewidth: 1,
    ticks: 'inside', ticklen: 5, tickcolor: AX, tickwidth: 1,
    tickfont: {family: FONT, size: 13, color: '#333'},
    automargin: false, fixedrange: true
  }, extra);
}

const layout = {
  width: 1111, height: 543,
  margin: {l: 0, r: 0, t: 0, b: 0},
  paper_bgcolor: '#fff', plot_bgcolor: '#fff',
  font: {family: FONT, color: '#333'},
  showlegend: true,
  xaxis: axis({domain: [0.05554, 0.47525], range: [0, 16000], tickvals: leftXTicks, ticktext: leftXTicks.map(String), mirror: 'ticks', anchor: 'y', ticklabelstandoff: 4,
    title: {text: 'Muestras', font: {family: FONT, size: 15, color: '#333'}, standoff: 4}}),
  yaxis: axis({domain: [0.25838, 0.94052], range: [-65, -35], tickvals: leftYTicks, ticktext: leftYTicks.map(String), mirror: 'ticks', anchor: 'x', ticklabelstandoff: 5,
    title: {text: 'Amplitud (dB)', font: {family: FONT, size: 15, color: '#333'}, standoff: 7}}),
  xaxis2: axis({domain: [0.59469, 0.99073], range: [-75, -35], tickvals: rightXTicks, ticktext: rightXTicks.map(String), anchor: 'y2', ticklabelstandoff: 5,
    title: {text: 'Electrodo 2', font: {family: FONT, size: 15, color: '#333'}, standoff: 5}}),
  yaxis2: axis({domain: [0.25727, 0.93683], range: [-75, -30], tickvals: rightYTicks, ticktext: rightYTicks.map(String), anchor: 'x2', ticklabelstandoff: 5,
    title: {text: 'Electrodo 4', font: {family: FONT, size: 15, color: '#333'}, standoff: 7}}),
  legend: {x: 0.47525, xanchor: 'right', y: 0.94052, yanchor: 'top', bgcolor: '#fff', bordercolor: '#000', borderwidth: 1,
    font: {family: FONT, size: 12, color: '#222'}, itemwidth: 43, tracegroupgap: 0},
  legend2: {x: 0.9892, xanchor: 'right', y: 0.3352, yanchor: 'bottom', bgcolor: '#fff', bordercolor: '#000', borderwidth: 1,
    font: {family: FONT, size: 12, color: '#222'}, itemwidth: 41, tracegroupgap: 0},
  annotations: [
    {text: 'Gancho de fuerza', xref: 'paper', yref: 'paper', x: 0.2655, y: 0.965, xanchor: 'center', yanchor: 'middle', showarrow: false,
      font: {family: FONT, size: 14, color: '#111', weight: 'bold'}},
    {text: 'Distribución de los datos en las tabletas', xref: 'paper', yref: 'paper', x: 0.7921, y: 0.9613, xanchor: 'center', yanchor: 'middle', showarrow: false,
      font: {family: FONT, size: 14, color: '#111', weight: 'bold'}},
    {text: 'a', xref: 'paper', yref: 'paper', x: 0.2583, y: 0.026, xanchor: 'center', yanchor: 'middle', showarrow: false,
      font: {family: 'Liberation Serif, Times New Roman, serif', size: 20, color: '#000'}},
    {text: 'b', xref: 'paper', yref: 'paper', x: 0.7705, y: 0.026, xanchor: 'center', yanchor: 'middle', showarrow: false,
      font: {family: 'Liberation Serif, Times New Roman, serif', size: 20, color: '#000'}}
  ]
};

Plotly.newPlot('chart', traces, layout, {displayModeBar: false, staticPlot: true});
</script>
</body>
</html>
